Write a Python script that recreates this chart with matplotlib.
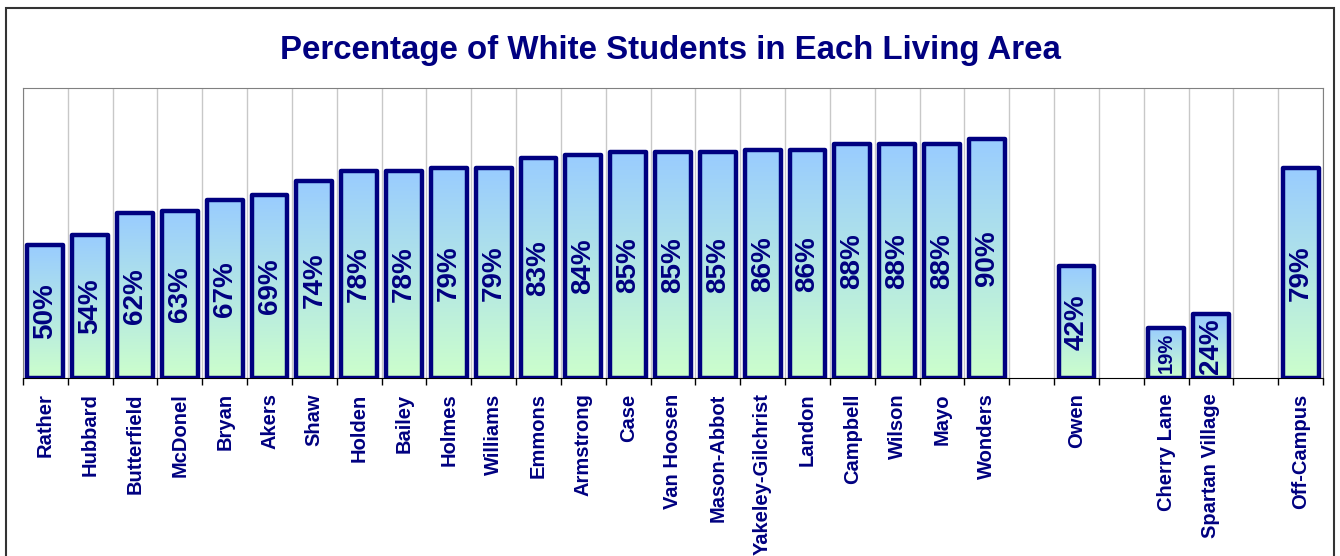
import numpy as np

import matplotlib
matplotlib.use('agg')

from matplotlib import pyplot as plt
from matplotlib.colors import LinearSegmentedColormap
from matplotlib.patches import Rectangle

# living areas, '' marks an empty slot
areas = ["Rather", "Hubbard", "Butterfield", "McDonel", "Bryan", "Akers", "Shaw",
         "Holden", "Bailey", "Holmes", "Williams", "Emmons", "Armstrong", "Case",
         "Van Hoosen", "Mason-Abbot", "Yakeley-Gilchrist", "Landon", "Campbell",
         "Wilson", "Mayo", "Wonders", "", "Owen", "", "Cherry Lane",
         "Spartan Village", "", "Off-Campus"]
pct_white = [0.50, 0.54, 0.62, 0.63, 0.67, 0.69, 0.74, 0.78, 0.78, 0.79, 0.79,
             0.83, 0.84, 0.85, 0.85, 0.85, 0.86, 0.86, 0.88, 0.88, 0.88, 0.90,
             None, 0.42, None, 0.19, 0.24, None, 0.79]

title = "Percentage of White Students in Each Living Area"

navy = "#000080"
plt.rcParams['font.family'] = ['Liberation Sans', 'DejaVu Sans']

fig = plt.figure(figsize=(13.4, 5.56), dpi=100)
ax = fig.add_axes([23 / 1340, 1 - 378 / 556, 1300 / 1340, 290 / 556])

cmap = LinearSegmentedColormap.from_list("grad", ["#CCFFCC", "#99CCFF"])
grad = np.linspace(0, 1, 256).reshape(-1, 1)

x = np.arange(len(areas))
for i, v in enumerate(pct_white):
    if v is None:
        continue
    bar = ax.bar(x[i], v, width=0.8, facecolor="none", edgecolor=navy,
                 linewidth=3.2, zorder=3)[0]
    bar.set_joinstyle('round')
    img = ax.imshow(grad, cmap=cmap, aspect='auto', origin='lower',
                    extent=(x[i] - 0.4, x[i] + 0.4, 0, v), zorder=2)
    img.set_clip_path(bar)
    fs = 14.5 if v < 0.2 else 20
    ax.text(x[i], v / 2, "{:.0f}%".format(v * 100), rotation=90, ha='center',
            va='center', color=navy, fontsize=fs, fontweight='bold', zorder=4)

ax.set_xlim(-0.5, len(areas) - 0.5)
ax.set_ylim(0, 1.092)
ax.set_yticks([])

ax.set_xticks(x)
ax.set_xticklabels(areas, rotation=90, color=navy, fontsize=14.5, fontweight='bold')
ax.set_xticks(np.arange(len(areas) + 1) - 0.5, minor=True)
ax.tick_params(axis='x', which='major', length=0, pad=11)
ax.tick_params(axis='x', which='minor', length=5, width=1, color='black')
ax.grid(axis='x', which='minor', color='#c8c8c8', linewidth=1, zorder=0)

for s in ['top', 'left', 'right']:
    ax.spines[s].set_color('#808080')
ax.spines['bottom'].set_color('black')

fig.text(0.5, 1 - 51 / 556, title, ha='center', va='center', color=navy,
         fontsize=23.8, fontweight='bold')

fig.patches.append(Rectangle((6 / 1340, -0.05), 1328 / 1340, 1.05 - 8 / 556,
                             transform=fig.transFigure, fill=False,
                             edgecolor='#333333', linewidth=1.5))

plt.savefig("out.png", dpi=100)
